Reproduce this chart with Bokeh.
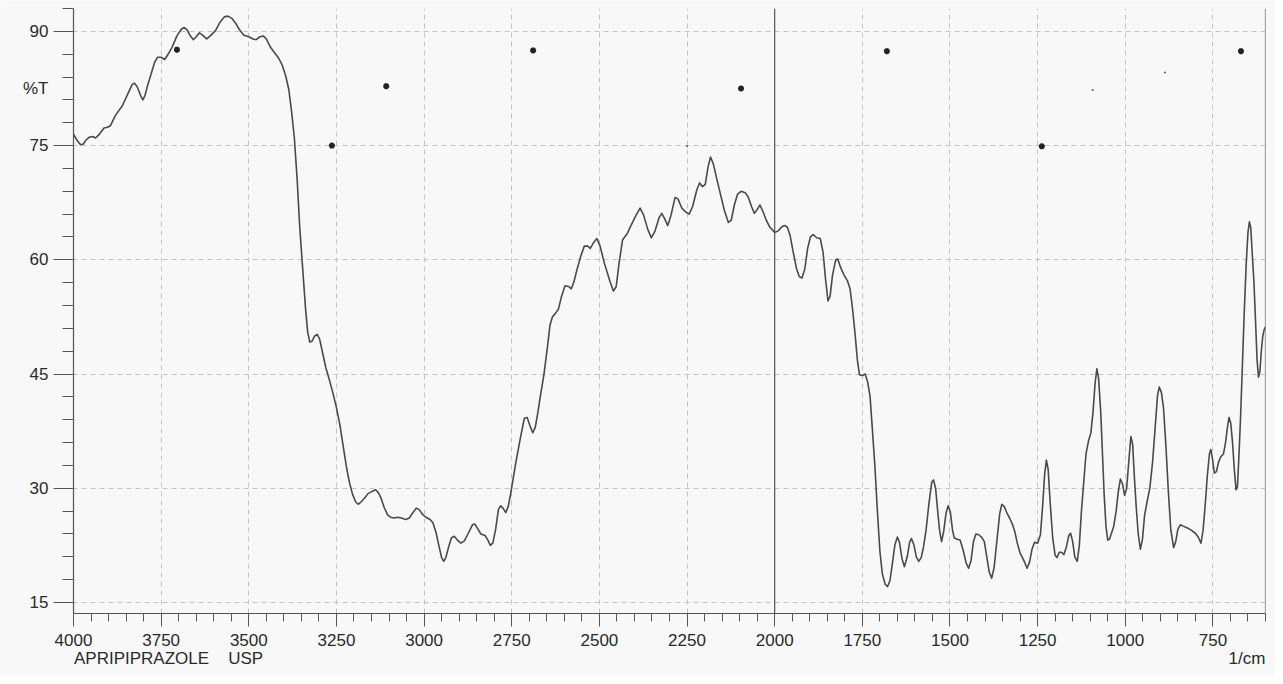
from bokeh.plotting import figure
from bokeh.models import Range1d, FixedTicker, Span, LinearAxis
from bokeh.embed import file_html
from bokeh.resources import INLINE

# ---- data (wavenumber in 1/cm, %T) ----
wavenumber = [
    4000, 3990, 3980, 3972, 3965, 3955, 3945, 3937, 3928, 3913, 3903, 3895,
    3880, 3861, 3845, 3833, 3826, 3818, 3808, 3802, 3796, 3788, 3780, 3768,
    3760, 3750, 3740, 3730, 3719, 3705, 3692, 3684, 3676, 3668, 3658, 3650,
    3641, 3632, 3620, 3610, 3595, 3582, 3570, 3560, 3548, 3538, 3525, 3514,
    3500, 3488, 3479, 3468, 3458, 3450, 3438, 3425, 3415, 3405, 3395, 3386,
    3378, 3370, 3362, 3355, 3347, 3338, 3332, 3326, 3320, 3312, 3305, 3298,
    3290, 3280, 3270, 3260, 3250, 3240, 3230, 3220, 3212, 3204, 3195, 3188,
    3180, 3170, 3160, 3148, 3138, 3130, 3122, 3114, 3104, 3096, 3086, 3076,
    3065, 3052, 3042, 3032, 3022, 3014, 3005, 2995, 2983, 2975, 2966, 2958,
    2950, 2944, 2938, 2930, 2922, 2914, 2905, 2895, 2885, 2875, 2862, 2855,
    2846, 2838, 2826, 2818, 2811, 2804, 2796, 2788, 2782, 2775, 2767, 2760,
    2753, 2739, 2725, 2714, 2706, 2698, 2690, 2683, 2676, 2668, 2658, 2648,
    2641, 2634, 2625, 2617, 2608, 2598, 2588, 2580, 2572, 2564, 2553, 2543,
    2533, 2526, 2516, 2507, 2498, 2486, 2470, 2460, 2452, 2444, 2434, 2420,
    2410, 2396, 2384, 2374, 2362, 2352, 2342, 2330, 2322, 2314, 2305, 2296,
    2284, 2276, 2265, 2254, 2244, 2234, 2222, 2214, 2206, 2198, 2190, 2183,
    2175, 2165, 2155, 2143, 2132, 2124, 2115, 2106, 2096, 2084, 2076, 2066,
    2058, 2050, 2042, 2034, 2024, 2014, 2000, 1990, 1980, 1972, 1964, 1956,
    1948, 1938, 1930, 1922, 1914, 1906, 1898, 1890, 1880, 1870, 1862, 1855,
    1848, 1842, 1835, 1826, 1820, 1812, 1802, 1792, 1785, 1778, 1771, 1764,
    1758, 1750, 1742, 1735, 1728, 1721, 1714, 1707, 1700, 1693, 1685, 1678,
    1671, 1664, 1657, 1650, 1644, 1637, 1630, 1622, 1615, 1610, 1603, 1596,
    1589, 1582, 1575, 1568, 1560, 1552, 1547, 1541, 1535, 1530, 1524, 1518,
    1511, 1505, 1499, 1493, 1488, 1480, 1471, 1462, 1454, 1447, 1440, 1433,
    1426, 1418, 1410, 1402, 1395, 1388, 1381, 1374, 1366, 1358, 1352, 1345,
    1337, 1330, 1322, 1315, 1308, 1300, 1290, 1280, 1273, 1266, 1259, 1250,
    1242, 1236, 1230, 1225, 1220, 1214, 1207, 1200, 1195, 1188, 1182, 1175,
    1168, 1161, 1156, 1150, 1144, 1137, 1131, 1125, 1119, 1112, 1105, 1098,
    1092, 1086, 1081, 1076, 1070, 1065, 1060, 1055, 1050, 1045, 1038, 1033,
    1026, 1020, 1014, 1008, 1002, 996, 990, 984, 979, 974, 969, 963,
    957, 951, 945, 938, 930, 922, 915, 908, 903, 897, 891, 884,
    877, 870, 862, 856, 850, 843, 833, 823, 812, 800, 792, 784,
    778, 772, 766, 760, 756, 751, 746, 740, 734, 728, 720, 714,
    708, 704, 699, 694, 689, 684, 680, 676, 671, 666, 661, 655,
    650, 646, 642, 638, 633, 628, 624, 620, 616, 612, 608, 604, 600]
transmittance = [
    76.5, 75.7, 75.1, 75.2, 75.7, 76.1, 76.2, 76.0, 76.4, 77.3, 77.4, 77.6,
    79.0, 80.2, 81.8, 83.0, 83.2, 82.7, 81.5, 81.0, 81.6, 83.0, 84.2, 86.0,
    86.6, 86.6, 86.3, 87.0, 87.9, 89.4, 90.3, 90.5, 90.2, 89.5, 88.9, 89.3,
    89.8, 89.5, 89.0, 89.4, 90.1, 91.2, 91.9, 92.0, 91.7, 91.1, 90.1, 89.5,
    89.3, 89.0, 88.9, 89.3, 89.4, 89.0, 87.9, 87.1, 86.5, 85.6, 84.2, 82.4,
    79.5, 76.0, 70.5, 64.5, 59.3, 53.5, 50.5, 49.2, 49.3, 50.0, 50.2, 49.6,
    47.9, 45.8, 44.2, 42.5, 40.6, 38.3, 35.3, 32.4, 30.6, 29.2, 28.2, 27.9,
    28.2, 28.7, 29.3, 29.6, 29.8, 29.4, 28.6, 27.5, 26.5, 26.2, 26.1, 26.2,
    26.1, 25.9, 26.1, 26.8, 27.4, 27.2, 26.6, 26.2, 25.9, 25.5, 24.2, 22.5,
    20.9, 20.4, 20.9, 22.3, 23.5, 23.7, 23.2, 22.8, 23.1, 24.0, 25.2, 25.3,
    24.6, 24.0, 23.8, 23.2, 22.5, 22.8, 24.6, 27.2, 27.7, 27.4, 26.8, 27.6,
    29.3, 33.2, 36.7, 39.2, 39.3, 38.2, 37.3, 38.0, 39.8, 42.2, 45.0, 48.6,
    51.4, 52.5, 53.0, 53.5, 55.2, 56.6, 56.5, 56.2, 57.2, 58.7, 60.5, 61.8,
    61.8, 61.5, 62.3, 62.8, 61.8, 59.6, 57.2, 55.9, 56.5, 59.5, 62.6, 63.5,
    64.5, 65.8, 66.8, 65.9, 64.0, 62.9, 63.7, 65.5, 66.1, 65.4, 64.5, 65.8,
    68.2, 68.0, 66.8, 66.3, 66.0, 67.0, 69.2, 70.1, 69.6, 69.9, 72.2, 73.5,
    72.6, 70.6, 68.7, 66.4, 64.9, 65.2, 67.2, 68.6, 69.0, 68.8, 68.3, 67.0,
    66.1, 66.6, 67.2, 66.4, 65.2, 64.3, 63.6, 63.8, 64.3, 64.5, 64.3, 63.2,
    61.2, 58.9, 57.8, 57.6, 58.8, 61.5, 63.0, 63.3, 62.9, 62.8, 61.0, 57.5,
    54.6, 55.2, 58.0, 60.0, 60.1, 59.0, 58.0, 57.2, 56.2, 53.6, 50.4, 46.8,
    44.9, 44.8, 45.0, 44.0, 42.1, 37.5, 32.8, 27.0, 21.8, 18.8, 17.4, 17.1,
    17.9, 20.2, 22.6, 23.6, 22.9, 20.8, 19.7, 21.0, 22.9, 23.4, 22.6, 21.0,
    20.4, 20.9, 22.4, 24.6, 28.0, 30.8, 31.1, 30.0, 27.0, 24.6, 23.0, 24.3,
    26.8, 27.7, 26.9, 24.6, 23.5, 23.3, 23.2, 21.8, 20.2, 19.5, 20.5, 23.0,
    24.0, 23.9, 23.6, 23.0, 21.0, 19.0, 18.2, 19.6, 23.2, 26.7, 27.9, 27.6,
    26.7, 26.1, 25.3, 24.3, 22.8, 21.5, 20.6, 19.5, 20.3, 22.0, 22.9, 22.8,
    23.9, 27.5, 31.8, 33.7, 32.5, 28.0, 23.5, 21.2, 20.9, 21.6, 21.6, 21.3,
    22.3, 23.8, 24.1, 23.0, 21.0, 20.4, 22.5, 27.0, 30.5, 34.5, 36.2, 37.3,
    40.0, 43.8, 45.7, 44.4, 40.0, 34.5, 29.0, 25.0, 23.2, 23.3, 24.3, 25.0,
    27.0, 29.5, 31.2, 30.6, 29.1, 30.0, 33.5, 36.8, 35.8, 31.5, 27.7, 24.0,
    22.0, 23.3, 26.4, 28.2, 30.0, 33.5, 37.8, 42.2, 43.3, 42.6, 40.6, 35.5,
    29.5, 24.5, 22.2, 23.0, 24.6, 25.2, 25.0, 24.8, 24.5, 24.1, 23.6, 22.8,
    24.5, 27.8, 31.6, 34.5, 35.1, 33.8, 32.0, 32.2, 33.4, 34.1, 34.5, 36.0,
    38.2, 39.3, 38.5, 36.0, 32.5, 29.8, 30.2, 34.0, 39.5, 46.0, 52.7, 59.5,
    63.6, 65.0, 64.2, 61.0, 57.1, 51.5, 46.8, 44.6, 45.3, 48.0, 49.9, 50.8, 51.2]

# scanned "*" marks on the chart paper
mark_wn = [3705, 3108, 3263, 2689, 2096, 1680, 1238, 670]
mark_t = [87.6, 82.8, 75.0, 87.5, 82.5, 87.4, 74.9, 87.4]
small_mark_wn = [2250, 1093, 887]
small_mark_t = [74.9, 82.3, 84.6]

x_major_ticks = [4000, 3750, 3500, 3250, 3000, 2750, 2500, 2250, 2000, 1750, 1500, 1250, 1000, 750]
x_minor_ticks = list(range(4000, 599, -50))
y_major_ticks = [15, 30, 45, 60, 75, 90]
y_minor_ticks = list(range(15, 94, 3))

# caption texts and the axis positions they sit under / beside
y_label = "%T"
y_label_at = 82.5
caption_words = ["APRIPIPRAZOLE", "USP", "1/cm"]
caption_at = [3806, 3509, 653]

# ---- figure ----
FONT = "Liberation Sans"
INK = "#2a2a2a"
AX = "#555555"
BG = "#f8f8f8"

p = figure(width=1275, height=676,
           x_range=Range1d(4000, 600), y_range=Range1d(13.56, 93.0),
           output_backend="svg", toolbar_location=None,
           min_border_left=73, min_border_right=10,
           min_border_top=8, min_border_bottom=63)
p.background_fill_color = BG
p.border_fill_color = BG
p.outline_line_color = None

p.xaxis.ticker = FixedTicker(ticks=x_major_ticks, minor_ticks=x_minor_ticks)
p.yaxis.ticker = FixedTicker(ticks=y_major_ticks, minor_ticks=y_minor_ticks)

for ax in (p.xaxis[0], p.yaxis[0]):
    ax.axis_line_color = AX
    ax.axis_line_width = 1.2
    ax.major_tick_line_color = AX
    ax.minor_tick_line_color = AX
    ax.major_tick_in = 0
    ax.minor_tick_in = 0
    ax.major_label_text_font = FONT
    ax.major_label_text_font_size = "17px"
    ax.major_label_text_color = INK

p.xaxis.major_tick_out = 13
p.xaxis.minor_tick_out = 8
p.xaxis.major_label_standoff = 7

# main y axis: tick marks only; its numbers are drawn by the label axis beside it
p.yaxis.major_tick_out = 20
p.yaxis.minor_tick_out = 11
p.yaxis.major_label_standoff = 0
p.yaxis.major_label_overrides = {t: "" for t in y_major_ticks}

y_text_ticks = sorted(y_major_ticks + [y_label_at])
y_text_axis = LinearAxis(ticker=FixedTicker(ticks=y_text_ticks, minor_ticks=[]),
                         major_label_overrides={y_label_at: y_label},
                         axis_line_color=None, major_tick_line_color=None,
                         minor_tick_line_color=None, major_tick_out=0, major_tick_in=0,
                         minor_tick_out=0, minor_tick_in=0, major_label_standoff=5,
                         major_label_text_font=FONT, major_label_text_font_size="17px",
                         major_label_text_color=INK)
p.add_layout(y_text_axis, "left")

caption_axis = LinearAxis(ticker=FixedTicker(ticks=caption_at, minor_ticks=[]),
                          major_label_overrides=dict(zip(caption_at, caption_words)),
                          axis_line_color=None, major_tick_line_color=None,
                          minor_tick_line_color=None, major_tick_out=0, major_tick_in=0,
                          minor_tick_out=0, minor_tick_in=0, major_label_standoff=0,
                          major_label_text_font=FONT, major_label_text_font_size="17px",
                          major_label_text_color=INK)
p.add_layout(caption_axis, "below")

for g in (p.xgrid[0], p.ygrid[0]):
    g.grid_line_color = "#c4c4c4"
    g.grid_line_dash = "5 4"
    g.grid_line_width = 1

p.add_layout(Span(location=2000, dimension="height", line_color=AX, line_width=1.2))
p.add_layout(Span(location=600, dimension="height", line_color=AX, line_width=1.2))

p.line(wavenumber, transmittance, line_color="#4a4a4a", line_width=1.6, line_join="round")

p.scatter(mark_wn, mark_t, marker="asterisk", size=6, line_color="#222222", line_width=2)
p.scatter(small_mark_wn, small_mark_t, marker="circle", size=2, fill_color="#555555",
          line_color=None)

open("out.html", "w").write(file_html(p, INLINE))
